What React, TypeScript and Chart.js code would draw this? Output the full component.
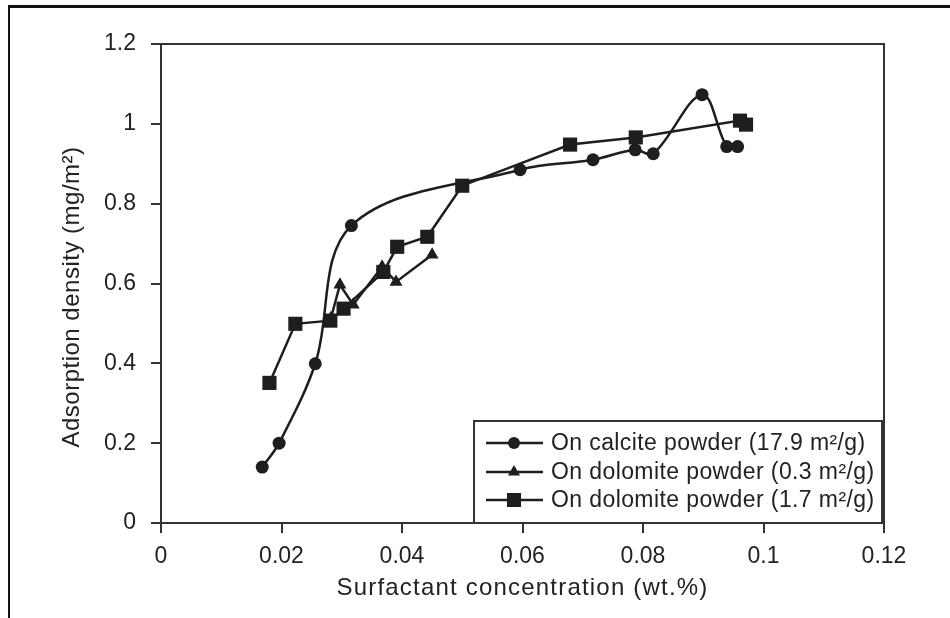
import React, { useEffect, useRef } from 'react';
import { Chart, registerables } from 'chart.js';

Chart.register(...registerables);

// Calcite powder (17.9 m2/g) — circles
const calciteX = [0.0168, 0.0196, 0.0256, 0.0316, 0.0596, 0.0717, 0.0787, 0.0817, 0.0898, 0.0939, 0.0957];
const calciteY = [0.140, 0.200, 0.399, 0.745, 0.885, 0.910, 0.935, 0.925, 1.073, 0.943, 0.943];

// Dolomite powder (0.3 m2/g) — triangles
const dolo03X = [0.0282, 0.0297, 0.0319, 0.0367, 0.0390, 0.0450];
const dolo03Y = [0.513, 0.597, 0.547, 0.642, 0.604, 0.672];

// Dolomite powder (1.7 m2/g) — squares
const dolo17X = [0.0180, 0.0223, 0.0281, 0.0303, 0.0369, 0.0392, 0.0442, 0.0500, 0.0679, 0.0788, 0.0961, 0.0971];
const dolo17Y = [0.351, 0.499, 0.507, 0.537, 0.629, 0.692, 0.717, 0.845, 0.948, 0.966, 1.008, 0.998];

const seriesLabels = [
  'On calcite powder (17.9 m²/g)',
  'On dolomite powder (0.3 m²/g)',
  'On dolomite powder (1.7 m²/g)',
];
const seriesMarkers = ['circle', 'triangle', 'rect'];

const xTickLabels = ['0', '0.02', '0.04', '0.06', '0.08', '0.1', '0.12'];
const yTickLabels = ['0', '0.2', '0.4', '0.6', '0.8', '1', '1.2'];
const xTitle = 'Surfactant concentration (wt.%)';
const yTitle = 'Adsorption density (mg/m²)';

const FONT = "'Liberation Sans', Arial, Helvetica, sans-serif";
const INK = '#1e1e1e';
const AXIS = '#333333';

function toPoints(xs: number[], ys: number[]) {
  return xs.map((x, i) => ({ x, y: ys[i] }));
}

function drawMarker(ctx: CanvasRenderingContext2D, style: string, x: number, y: number) {
  ctx.beginPath();
  if (style === 'circle') {
    ctx.arc(x, y, 6, 0, Math.PI * 2);
  } else if (style === 'triangle') {
    const r = 7;
    ctx.moveTo(x, y - r);
    ctx.lineTo(x + r * 0.866, y + r * 0.5);
    ctx.lineTo(x - r * 0.866, y + r * 0.5);
    ctx.closePath();
  } else {
    ctx.rect(x - 7, y - 7, 14, 14);
  }
  ctx.fill();
}

const decorPlugin = {
  id: 'decor',
  afterDraw(chart: any) {
    const ctx: CanvasRenderingContext2D = chart.ctx;
    const { left, right, top, bottom } = chart.chartArea;
    ctx.save();
    // top and right frame of plot area
    ctx.strokeStyle = AXIS;
    ctx.lineWidth = 2;
    ctx.beginPath();
    ctx.moveTo(left - 10, top);
    ctx.lineTo(right, top);
    ctx.lineTo(right, bottom);
    ctx.stroke();

    // legend box
    const bx = 474, by = 421, bw = right - 2 - 474, bh = bottom - 421;
    ctx.fillStyle = '#ffffff';
    ctx.fillRect(bx, by, bw, bh);
    ctx.strokeStyle = AXIS;
    ctx.lineWidth = 2;
    ctx.strokeRect(bx, by, bw, bh);
    const rows = [443, 472, 500];
    ctx.font = `23px ${FONT}`;
    ctx.textBaseline = 'middle';
    ctx.textAlign = 'left';
    (ctx as any).letterSpacing = '0.4px';
    chart.data.datasets.forEach((ds: any, i: number) => {
      const y = rows[i];
      ctx.strokeStyle = INK;
      ctx.lineWidth = 2.5;
      ctx.beginPath();
      ctx.moveTo(486, y);
      ctx.lineTo(543, y);
      ctx.stroke();
      ctx.fillStyle = INK;
      drawMarker(ctx, seriesMarkers[i], 514, y);
      ctx.fillStyle = '#222';
      ctx.fillText(ds.label, 551, y + 1);
    });

    // axis titles
    ctx.fillStyle = '#222';
    ctx.font = `24px ${FONT}`;
    ctx.textAlign = 'center';
    ctx.textBaseline = 'middle';
    (ctx as any).letterSpacing = '1.2px';
    ctx.fillText(xTitle, (left + right) / 2, 588);
    ctx.translate(72, 297);
    ctx.rotate(-Math.PI / 2);
    (ctx as any).letterSpacing = '0.5px';
    ctx.fillText(yTitle, 0, 0);
    ctx.restore();
  },
};

export default function App() {
  const canvasRef = useRef<HTMLCanvasElement | null>(null);

  useEffect(() => {
    const canvas = canvasRef.current;
    if (!canvas) return;
    const chart = new Chart(canvas, {
      type: 'line',
      data: {
        datasets: [
          {
            label: seriesLabels[0],
            data: toPoints(calciteX, calciteY),
            borderColor: INK,
            backgroundColor: INK,
            borderWidth: 2.5,
            pointStyle: 'circle',
            pointRadius: 6.5,
            pointBorderWidth: 0,
            tension: 0.35,
          },
          {
            label: seriesLabels[1],
            data: toPoints(dolo03X, dolo03Y),
            borderColor: INK,
            backgroundColor: INK,
            borderWidth: 2.5,
            pointStyle: 'triangle',
            pointRadius: 7.5,
            pointBorderWidth: 0,
            tension: 0,
          },
          {
            label: seriesLabels[2],
            data: toPoints(dolo17X, dolo17Y),
            borderColor: INK,
            backgroundColor: INK,
            borderWidth: 2.5,
            pointStyle: 'rect',
            pointRadius: 10,
            pointBorderWidth: 0,
            tension: 0,
          },
        ],
      },
      options: {
        responsive: false,
        animation: false,
        devicePixelRatio: 1,
        layout: { padding: { left: 0, right: 66, top: 44, bottom: 0 } },
        plugins: { legend: { display: false }, tooltip: { enabled: false } },
        scales: {
          x: {
            type: 'linear',
            min: 0,
            max: 0.12,
            afterFit: (scale: any) => { scale.height = 95; },
            ticks: {
              stepSize: 0.02,
              color: '#222',
              font: { family: FONT, size: 23 },
              padding: 10,
              maxRotation: 0,
              callback: (_v: any, i: number) => xTickLabels[i],
            },
            grid: { drawOnChartArea: false, drawTicks: true, tickLength: 10, tickColor: AXIS, tickWidth: 2, lineWidth: 2 },
            border: { display: true, color: AXIS, width: 2 },
          },
          y: {
            type: 'linear',
            min: 0,
            max: 1.2,
            afterFit: (scale: any) => { scale.width = 161; },
            ticks: {
              stepSize: 0.2,
              color: '#222',
              font: { family: FONT, size: 23 },
              padding: 15,
              callback: (_v: any, i: number) => yTickLabels[i],
            },
            grid: { drawOnChartArea: false, drawTicks: true, tickLength: 10, tickColor: AXIS, tickWidth: 2, lineWidth: 2 },
            border: { display: true, color: AXIS, width: 2 },
          },
        },
      },
      plugins: [decorPlugin],
    });
    return () => chart.destroy();
  }, []);

  return (
    <div style={{ position: 'fixed', left: 0, top: 0, width: 950, height: 618, background: '#fff', overflow: 'hidden' }}>
      <div
        style={{
          position: 'absolute',
          left: 8,
          top: 5,
          width: 950,
          height: 700,
          borderTop: '3px solid #111',
          borderLeft: '2px solid #111',
          boxSizing: 'border-box',
        }}
      />
      <canvas ref={canvasRef} width={950} height={618} style={{ position: 'absolute', left: 0, top: 0, width: 950, height: 618 }} />
    </div>
  );
}
